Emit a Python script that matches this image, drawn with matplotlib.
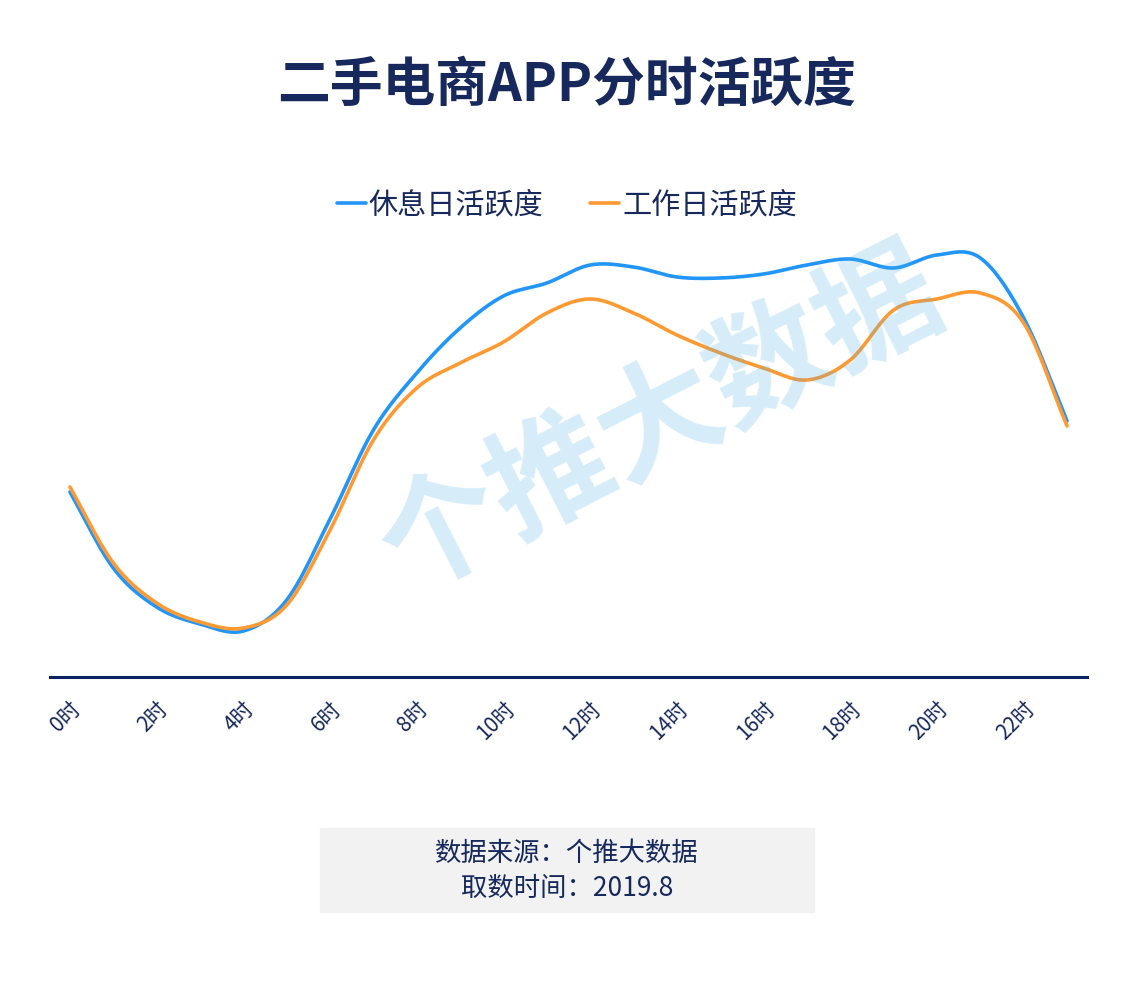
import numpy as np
import matplotlib
matplotlib.use('Agg')
import matplotlib.pyplot as plt
from matplotlib.patches import Rectangle

plt.rcParams['font.family'] = ['Noto Sans CJK SC', 'DejaVu Sans']

NAVY = '#17295c'

hours = list(range(24))
tick_hours = list(range(0, 24, 2))
tick_labels = ['%d时' % h for h in tick_hours]

# activity index
rest_day = [185, 109, 70, 53, 46, 77, 158, 247, 304, 349, 381, 394,
            412, 410, 400, 399, 403, 412, 418, 409, 422, 419, 359, 256]
work_day = [190, 114, 74, 55, 49, 72, 147, 237, 289, 314, 335, 364,
            378, 364, 342, 324, 309, 297, 317, 367, 378, 384, 354, 251]


def smooth(xs, ys, n=30):
    # cubic hermite through every point, catmull-rom tangents
    xs = np.asarray(xs, float)
    ys = np.asarray(ys, float)
    m = np.gradient(ys, xs)
    out_x, out_y = [], []
    for i in range(len(xs) - 1):
        h = xs[i + 1] - xs[i]
        t = np.linspace(0, 1, n, endpoint=False)
        h00 = 2 * t**3 - 3 * t**2 + 1
        h10 = t**3 - 2 * t**2 + t
        h01 = -2 * t**3 + 3 * t**2
        h11 = t**3 - t**2
        out_x.append(xs[i] + t * h)
        out_y.append(h00 * ys[i] + h10 * h * m[i] + h01 * ys[i + 1] + h11 * h * m[i + 1])
    out_x.append([xs[-1]])
    out_y.append([ys[-1]])
    return np.concatenate(out_x), np.concatenate(out_y)


fig = plt.figure(figsize=(11.34, 9.83), dpi=100)
ax = fig.add_axes([50 / 1134, 306 / 983, 1037 / 1134, 447 / 983])

sx, sy = smooth(hours, rest_day)
ax.plot(sx, sy, color='#2196f8', lw=2.6, label='休息日活跃度', solid_capstyle='round')
sx, sy = smooth(hours, work_day)
ax.plot(sx, sy, color='#ff9a33', lw=2.6, label='工作日活跃度', solid_capstyle='round')

ax.set_xlim(-0.46, 23.46)
ax.set_ylim(0, 447)
for s in ['top', 'right', 'left']:
    ax.spines[s].set_visible(False)
ax.spines['bottom'].set_color('#0b2461')
ax.spines['bottom'].set_linewidth(2.2)
ax.set_yticks([])
ax.set_xticks(tick_hours)
ax.set_xticklabels(tick_labels, rotation=45, ha='right', va='top',
                   rotation_mode='anchor', fontsize=15, color=NAVY)
ax.tick_params(axis='x', length=0, pad=15)

# watermark
ax.text(13.65, 255, '个推大数据', fontsize=88, fontweight='bold', color='#45b0e6',
        alpha=0.22, rotation=27, ha='center', va='center', zorder=5)

leg = fig.legend(loc='center', bbox_to_anchor=(0.5, 1 - 205 / 983), ncol=2,
                 frameon=False, fontsize=21, handlelength=1.0,
                 handletextpad=0.1, columnspacing=1.6)
for t in leg.get_texts():
    t.set_color(NAVY)

fig.text(0.5, 1 - 85 / 983, '二手电商APP分时活跃度', fontsize=38, fontweight='bold',
         color=NAVY, ha='center', va='center')

fig.patches.append(Rectangle((320 / 1134, 1 - 912 / 983), 494 / 1134, 84 / 983,
                             transform=fig.transFigure, color='#f2f2f2', zorder=0))
fig.text(567 / 1134, 1 - 853 / 983, '数据来源：个推大数据', fontsize=19,
         color=NAVY, ha='center', va='center')
fig.text(567 / 1134, 1 - 888 / 983, '取数时间：2019.8', fontsize=19,
         color=NAVY, ha='center', va='center')

fig.savefig('out.png', dpi=100)
